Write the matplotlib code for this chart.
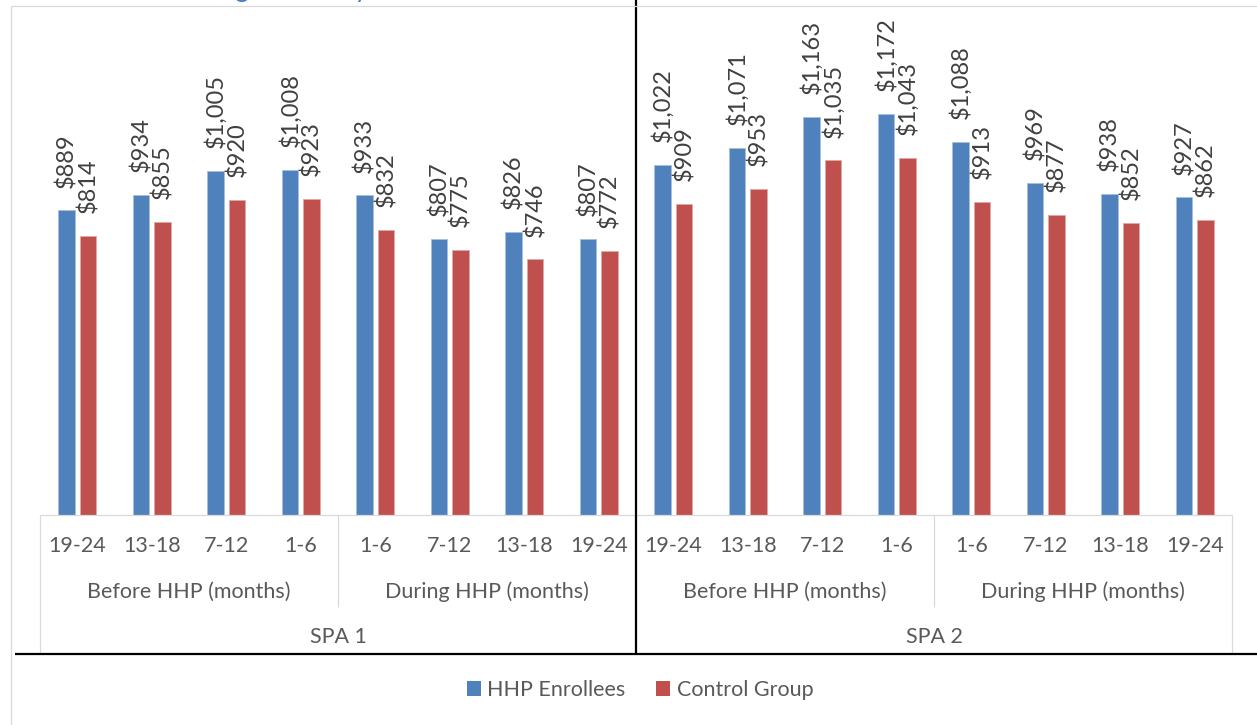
import matplotlib.pyplot as plt
from matplotlib import transforms
from matplotlib.lines import Line2D
from matplotlib.patches import Patch

# Average monthly cost per member, HHP enrollees vs. control group
hhp_enrollees = [889, 934, 1005, 1008, 933, 807, 826, 807,
                 1022, 1071, 1163, 1172, 1088, 969, 938, 927]
control_group = [814, 855, 920, 923, 832, 775, 746, 772,
                 909, 953, 1035, 1043, 913, 877, 852, 862]
month_labels = ["19-24", "13-18", "7-12", "1-6", "1-6", "7-12", "13-18", "19-24",
                "19-24", "13-18", "7-12", "1-6", "1-6", "7-12", "13-18", "19-24"]
phase_labels = ["Before HHP (months)", "During HHP (months)",
                "Before HHP (months)", "During HHP (months)"]
region_labels = ["SPA 1", "SPA 2"]
series_names = ["HHP Enrollees", "Control Group"]

BLUE = "#4F81BD"
RED = "#C0504D"
TEXT = "#595959"
VALUE_TEXT = "#404040"
GRID = "#D9D9D9"
FONT = "Lato"

W, H = 1257, 725
fig = plt.figure(figsize=(W / 100, H / 100), dpi=100)
plt.rcParams["font.family"] = [FONT, "DejaVu Sans"]


def fx(px):
    return px / W


def fy(py):
    return 1 - py / H


ax = fig.add_axes([fx(40), fy(515), fx(1232) - fx(40), fy(6) - fy(515)])
n = len(month_labels)
xs = list(range(n))
bw = 0.222
off = 0.145
b1 = ax.bar([x - off for x in xs], hhp_enrollees, bw, color=BLUE,
            edgecolor="#A7C0DE", linewidth=0.6)
b2 = ax.bar([x + off for x in xs], control_group, bw, color=RED,
            edgecolor="#DFA8A6", linewidth=0.6)
ax.set_xlim(-0.5, n - 0.5)
ax.set_ylim(0, 1486)
ax.axis("off")

for bars, vals in ((b1, hhp_enrollees), (b2, control_group)):
    for rect, v in zip(bars, vals):
        ax.annotate(f"${v:,}", (rect.get_x() + rect.get_width() / 2, v),
                    xytext=(0, 16.5), textcoords="offset points",
                    rotation=90, ha="center", va="bottom",
                    fontsize=17, color=VALUE_TEXT, family=[FONT, "DejaVu Sans"])

# Multi-level category axis
tr = transforms.blended_transform_factory(ax.transData, fig.transFigure)


def line(x0, x1, y0, y1, color=GRID, lw=0.9, transform=tr):
    fig.add_artist(Line2D([x0, x1], [y0, y1], transform=transform,
                          color=color, lw=lw, solid_capstyle="butt"))


line(-0.5, n - 0.5, fy(515), fy(515))
line(-0.5, -0.5, fy(515), fy(654))
line(n - 0.5, n - 0.5, fy(515), fy(654))
for b in (3.5, 11.5):
    line(b, b, fy(515), fy(607))
line(7.5, 7.5, 1.0, fy(654), color="black", lw=1.6)

# outer chart border and bottom rule
line(fx(11), 1.0, fy(6), fy(6), transform=fig.transFigure)
line(fx(11), fx(11), fy(6), 0.0, transform=fig.transFigure)
line(fx(15), 1.0, fy(654), fy(654), color="black", lw=1.6,
     transform=fig.transFigure)

for x, lab in zip(xs, month_labels):
    fig.text(x, fy(546), lab, transform=tr, ha="center", va="center",
             fontsize=15.5, color=TEXT)
for i, lab in enumerate(phase_labels):
    fig.text(i * 4 + 1.5, fy(592), lab, transform=tr, ha="center",
             va="center", fontsize=15.5, color=TEXT)
for i, lab in enumerate(region_labels):
    fig.text(i * 8 + 3.5, fy(637), lab, transform=tr, ha="center",
             va="center", fontsize=15.5, color=TEXT)

# heading above the chart (runs off the top edge)
fig.text(fx(167), fy(-3), "Average Monthly", ha="left", va="baseline",
         fontsize=19, color="#4A7EBB")

handles = [Patch(facecolor=BLUE), Patch(facecolor=RED)]
fig.legend(handles, series_names, loc="center", bbox_to_anchor=(fx(640), fy(690)),
           ncol=2, frameon=False, fontsize=15.5, labelcolor=TEXT,
           handlelength=0.66, handleheight=0.66, handletextpad=0.3,
           columnspacing=1.4, borderaxespad=0)

fig.savefig("out.png", dpi=100)
